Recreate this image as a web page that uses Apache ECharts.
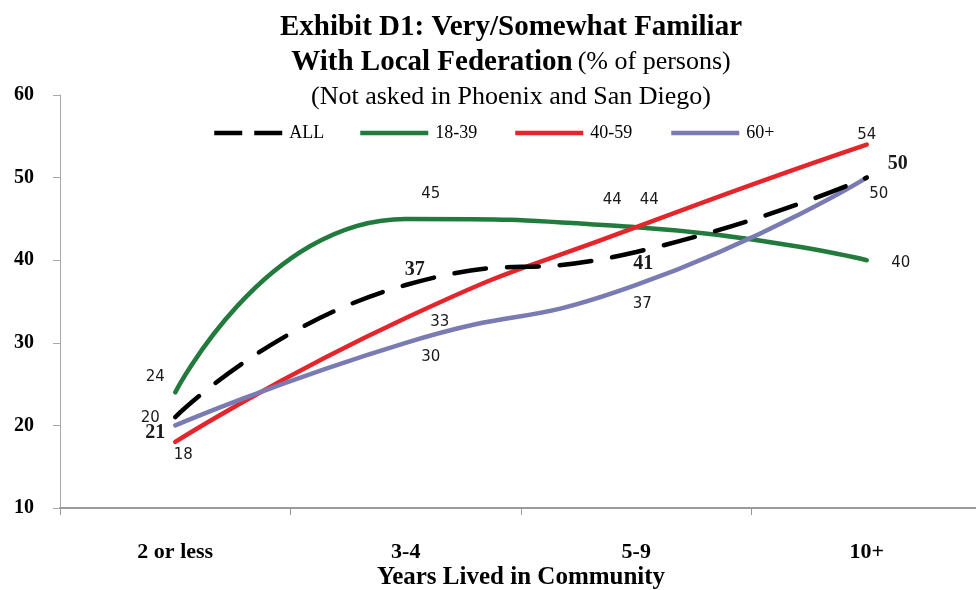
<!DOCTYPE html>
<html><head><meta charset="utf-8">
<script src="https://cdn.jsdelivr.net/npm/echarts@6/dist/echarts.min.js"></script>
<style>html,body{margin:0;padding:0;background:#fff}#c{width:976px;height:590px}</style>
</head><body><div id="c"></div><script>
// ---- data ----
const categories = ['2 or less', '3-4', '5-9', '10+'];
const seriesNames = ['ALL', '18-39', '40-59', '60+'];
const valuesAll = [21, 37, 41, 50];
const values1839 = [24, 45, 44, 40];
const values4059 = [18, 33, 44, 54];
const values60p = [20, 30, 37, 50];
const yMin = 10, yMax = 60, yStep = 10;

// ---- styles ----
const SERIF = '"Liberation Serif", "Times New Roman", serif';
const SANS = '"DejaVu Sans", Verdana, sans-serif';
const colors = { 'ALL': '#000000', '18-39': '#227a3d', '40-59': '#e4262c', '60+': '#7a7bb3' };
// label center offsets (px) relative to each point
const labelOffsets = {
  'ALL':   [[-20, 16], [9, -15], [7, 12], [31, -14]],
  '18-39': [[-20, -15], [25, -25], [-24, -27], [34, 3]],
  '40-59': [[8, 13], [34, 4], [13, -27], [0, -9]],
  '60+':   [[-25, -7], [25, 14], [6, 19], [12, 17]]
};
const legendLeft = { 'ALL': 212, '18-39': 358, '40-59': 513, '60+': 669 };

function makeSeries(name, values, z) {
  const isAll = name === 'ALL';
  return {
    name: name, type: 'line', smooth: 0.55, symbol: 'circle', symbolSize: 2, showSymbol: true, z: z,
    lineStyle: { color: colors[name], width: 4.5, type: isAll ? [32, 21] : 'solid', cap: 'round' },
    itemStyle: { color: 'rgba(0,0,0,0)', borderWidth: 0 },
    label: {
      show: true, position: 'inside', color: '#1a1a1a',
      fontFamily: isAll ? SERIF : SANS, fontSize: isAll ? 20 : 15,
      fontWeight: isAll ? 'bold' : 'normal'
    },
    emphasis: { disabled: true },
    data: values.map((v, i) => ({ value: v, label: { offset: labelOffsets[name][i] } }))
  };
}

const chart = echarts.init(document.getElementById('c'), null, { renderer: 'canvas' });
chart.setOption({
  animation: false,
  backgroundColor: '#fff',
  title: {
    left: 506, top: 5, textAlign: 'center',
    text: '{b|Exhibit D1: Very/Somewhat Familiar}\n{b|With Local Federation} {r|(% of persons)}\n{r|(Not asked in Phoenix and San Diego)}',
    textStyle: {
      rich: {
        b: { fontFamily: SERIF, fontWeight: 'bold', fontSize: 29, lineHeight: 35, color: '#000' },
        r: { fontFamily: SERIF, fontWeight: 'normal', fontSize: 26, lineHeight: 35, color: '#000' }
      }
    }
  },
  legend: seriesNames.map(n => ({
    data: [n], left: legendLeft[n], top: 124, itemWidth: 68, itemHeight: 14, padding: 0,
    itemStyle: { color: 'rgba(0,0,0,0)', borderWidth: 0 },
    lineStyle: { width: 4.5, type: n === 'ALL' ? [28, 12] : 'solid', cap: 'butt', color: colors[n] },
    textStyle: { fontFamily: SERIF, fontSize: 18, color: '#000', padding: [0, 0, 0, 2] }
  })),
  grid: { left: 60, top: 95, width: 922, height: 413, containLabel: false, outerBoundsMode: 'none' },
  xAxis: {
    type: 'category', data: categories, boundaryGap: true,
    axisLine: { lineStyle: { color: '#9a9a9a', width: 2 } },
    axisTick: { show: true, length: 7, lineStyle: { color: '#9a9a9a', width: 1 } },
    axisLabel: { margin: 33, fontFamily: SERIF, fontWeight: 'bold', fontSize: 22, color: '#000' },
    name: 'Years Lived in Community', nameLocation: 'middle', nameGap: 57, nameMoveOverlap: false,
    nameTextStyle: { fontFamily: SERIF, fontWeight: 'bold', fontSize: 25, color: '#000' }
  },
  yAxis: {
    type: 'value', min: yMin, max: yMax, interval: yStep,
    axisLine: { show: true, lineStyle: { color: '#a8a8a8', width: 1 } },
    axisTick: { show: true, inside: false, length: 7, lineStyle: { color: '#a8a8a8' } },
    splitLine: { show: false },
    axisLabel: { margin: 26, fontFamily: SERIF, fontWeight: 'bold', fontSize: 20, color: '#000' }
  },
  series: [
    makeSeries('18-39', values1839, 2),
    makeSeries('40-59', values4059, 3),
    makeSeries('60+', values60p, 4),
    makeSeries('ALL', valuesAll, 5)
  ]
});
</script></body></html>
